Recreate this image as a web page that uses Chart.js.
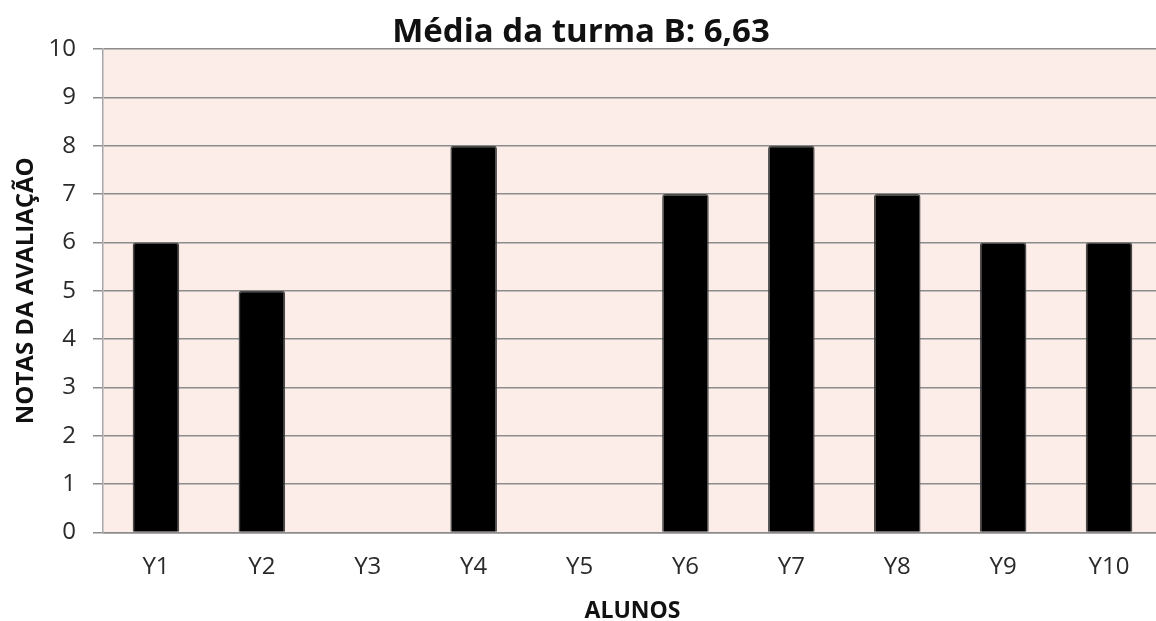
<!DOCTYPE html>
<html>
<head>
<meta charset="utf-8">
<script src="https://cdn.jsdelivr.net/npm/chart.js@4"></script>
<style>
  html, body { margin: 0; padding: 0; background: #ffffff; overflow: hidden; }
  #wrap { width: 1156px; height: 621px; overflow: hidden; }
</style>
</head>
<body>
<div id="wrap"><canvas id="c" width="1162" height="621"></canvas></div>
<script>
const categories = ["Y1", "Y2", "Y3", "Y4", "Y5", "Y6", "Y7", "Y8", "Y9", "Y10"];
const notas = [6, 5, 0, 8, 0, 7, 8, 7, 6, 6];
const yTicks = [0, 1, 2, 3, 4, 5, 6, 7, 8, 9, 10];
const titleText = "Média da turma B: 6,63";
const xTitle = "ALUNOS";
const yTitle = "NOTAS DA AVALIAÇÃO";

const bgPlugin = {
  id: 'plotBg',
  beforeDraw(chart) {
    const { ctx, chartArea: a } = chart;
    ctx.save();
    ctx.fillStyle = '#fcede8';
    ctx.fillRect(a.left, a.top, a.right - a.left, a.bottom - a.top);
    ctx.restore();
  }
};

Chart.defaults.font.family = "'Open Sans', 'Liberation Sans', sans-serif";
Chart.defaults.color = '#222';

new Chart(document.getElementById('c'), {
  type: 'bar',
  data: {
    labels: categories,
    datasets: [{
      data: notas,
      backgroundColor: '#000000',
      borderColor: '#4a4a4a',
      borderWidth: 1.5,
      borderRadius: { topLeft: 3, topRight: 3 },
      borderSkipped: 'bottom',
      barPercentage: 0.44,
      categoryPercentage: 1.0
    }]
  },
  options: {
    responsive: false,
    animation: false,
    layout: { padding: { left: 0, right: 0, top: 0, bottom: 0 } },
    plugins: {
      legend: { display: false },
      tooltip: { enabled: false },
      title: {
        display: true,
        text: titleText,
        font: { size: 33, weight: 'bold', lineHeight: 1.0 },
        color: '#111',
        padding: { top: 16, bottom: 0 }
      }
    },
    scales: {
      x: {
        afterFit(scale) { scale.height = 88.5; },
        grid: { display: false },
        border: { display: true, color: '#8c8c8c', width: 1.5 },
        ticks: { font: { size: 24 }, color: '#2a2a2a', padding: 12 },
        title: { display: true, text: xTitle, font: { size: 23, weight: 'bold', lineHeight: 1.0 }, color: '#111', padding: { top: 0, bottom: -2 } }
      },
      y: {
        min: 0, max: 10,
        afterFit(scale) { scale.width = 103; },
        afterBuildTicks(scale) { scale.ticks = yTicks.map(v => ({ value: v })); },
        grid: { color: '#8c8c8c', lineWidth: 1.5, drawTicks: true, tickLength: 10 },
        border: { display: true, color: '#a8a8a8', width: 1.5 },
        ticks: { font: { size: 24 }, color: '#2a2a2a', padding: 17 },
        title: { display: true, text: yTitle, font: { size: 24, weight: 'bold', lineHeight: 1.0 }, color: '#111', padding: { top: 14, bottom: 0 } }
      }
    }
  },
  plugins: [bgPlugin]
});
</script>
</body>
</html>
